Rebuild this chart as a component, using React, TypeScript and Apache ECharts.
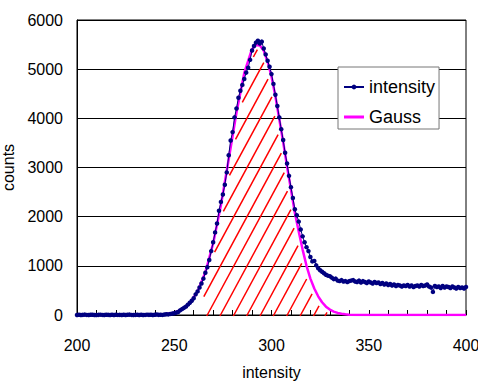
import React, { useEffect, useRef } from "react";
import * as echarts from "echarts";

// intensity measurements, one value per unit of x starting at X_START
const X_START = 200;
const intensityValues = [
  // 200-209
  0, 5, 0, 3, 8, 2, 0, 4, 6, 1,
  // 210-219
  0, 3, 7, 2, 0, 5, 3, 1, 4, 0,
  // 220-229
  6, 2, 3, 0, 5, 1, 4, 8, 2, 0,
  // 230-239
  3, 6, 1, 4, 0, 2, 7, 3, 5, 1,
  // 240-249
  4, 9, 3, 6, 2, 10, 15, 12, 22, 28,
  // 250-259
  35, 48, 60, 95, 120, 145, 170, 210, 250, 290,
  // 260-269
  340, 420, 480, 560, 640, 740, 860, 970, 1120, 1300,
  // 270-279
  1480, 1680, 1860, 2120, 2300, 2450, 2650, 2900, 3250, 3550,
  // 280-289
  3720, 4020, 4200, 4420, 4560, 4680, 4800, 4930, 5030, 5190,
  // 290-299
  5380, 5470, 5540, 5580, 5520, 5560, 5420, 5300, 5170, 5050,
  // 300-309
  4900, 4700, 4480, 4250, 4020, 3780, 3560, 3300, 3080, 2830,
  // 310-319
  2600, 2380, 2150, 2030, 1900, 1740, 1600, 1480, 1380, 1300,
  // 320-329
  1180, 1090, 1100, 1010, 950, 910, 880, 850, 820, 800,
  // 330-339
  790, 760, 730, 740, 700, 690, 710, 680, 690, 670,
  // 340-349
  690, 700, 710, 680, 670, 700, 660, 690, 670, 650,
  // 350-359
  680, 660, 640, 670, 650, 660, 630, 650, 620, 640,
  // 360-369
  610, 630, 600, 620, 590, 610, 600, 580, 600, 590,
  // 370-379
  610, 580, 600, 570, 590, 600, 580, 610, 590, 600,
  // 380-389
  620, 580, 560, 470, 590, 570, 580, 550, 590, 560,
  // 390-400
  580, 570, 550, 580, 560, 540, 570, 550, 560, 540, 570,
];

const gaussX = [
  200, 230, 240, 246, 250, 254, 258, 262, 266, 270, 274, 278, 282, 286, 290,
  292, 294, 296, 298, 300, 302, 304, 306, 308, 310, 312, 314, 316, 318, 320,
  322, 324, 326, 328, 330, 332, 334, 336, 338, 340, 344, 350, 400,
];
const gaussY = [
  0, 0, 3, 20, 48, 112, 242, 478, 870, 1456, 2239, 3167, 4118, 4923, 5410,
  5490, 5480, 5380, 5150, 4850, 4450, 3980, 3520, 3020, 2550, 2080, 1700, 1330, 1000, 740,
  540, 380, 260, 170, 110, 70, 42, 24, 13, 6, 1, 0, 0,
];

// hatch lines: x where each hatch line meets y = 0
const hatchIntercepts = [
  205.0, 211.8, 218.7, 225.6, 232.4, 239.3, 246.2, 253.0, 259.8, 266.7,
  273.5, 280.4, 287.2, 294.1, 300.9, 307.8, 314.7, 321.6, 327.5,
];
const HATCH_MIN_X = 265;

const yTicks = [0, 1000, 2000, 3000, 4000, 5000, 6000];
const xLabelStep = 50;

const SANS = "'Liberation Sans', Arial, sans-serif";

export default function App() {
  const ref = useRef<HTMLDivElement>(null);
  useEffect(() => {
    if (!ref.current) return;
    const chart = echarts.init(ref.current, undefined, { renderer: "svg" });

    const intensityData = intensityValues.map((v, i) => [X_START + i, v]);
    const gaussData = gaussX.map((x, i) => [x, gaussY[i]]);
    const hatchData = hatchIntercepts.map((c) => [c, 0]);

    const slope = 1.85;
    const V = 2.5;
    const H = 3;

    const renderHatch = (params: any, api: any) => {
      const c = api.value(0);
      const p0 = api.coord([c, 0]);
      const xmin = api.coord([HATCH_MIN_X, 0])[0];
      const gp = gaussX.map((x, i) => api.coord([x, gaussY[i]]));
      const curve = (px: number) => {
        if (px <= gp[0][0]) return gp[0][1];
        for (let i = 1; i < gp.length; i++) {
          if (px <= gp[i][0]) {
            const a = gp[i - 1];
            const b = gp[i];
            const t = (px - a[0]) / (b[0] - a[0]);
            return a[1] + (b[1] - a[1]) * t;
          }
        }
        return gp[gp.length - 1][1];
      };
      const top = params.coordSys.y;
      const segs: number[][] = [];
      let cur: number[] | null = null;
      for (let t = 0; t <= 500; t += 0.5) {
        const px = p0[0] + t;
        const py = p0[1] + 1 - t * slope;
        if (py < top) break;
        const lim = Math.max(curve(px - H), curve(px), curve(px + H)) + V;
        const inside = px >= xmin && py >= lim;
        if (inside) {
          if (!cur) cur = [px, py, px, py];
          else {
            cur[2] = px;
            cur[3] = py;
          }
        } else if (cur) {
          segs.push(cur);
          cur = null;
        }
      }
      if (cur) segs.push(cur);
      return {
        type: "group",
        children: segs.map((s) => ({
          type: "line",
          shape: { x1: s[0], y1: s[1], x2: s[2], y2: s[3] },
          style: { stroke: "#ff0000", lineWidth: 1.5 },
        })),
      };
    };

    chart.setOption({
      animation: false,
      backgroundColor: "#ffffff",
      grid: {
        left: 77,
        top: 20,
        width: 389,
        height: 295,
        outerBoundsMode: "none",
        containLabel: false,
        show: true,
        borderColor: "#000",
        borderWidth: 1,
        backgroundColor: "transparent",
      },
      legend: {
        left: 338,
        top: 67,
        orient: "vertical",
        padding: [10, 4, 2, 5],
        itemGap: 10,
        itemWidth: 20,
        itemHeight: 6,
        backgroundColor: "#ffffff",
        borderColor: "#777",
        borderWidth: 1,
        textStyle: { fontFamily: SANS, fontSize: 18, color: "#000", lineHeight: 20 },
        data: [
          { name: "intensity" },
          { name: "Gauss", icon: "path://M0 0H20V3H0Z", itemStyle: { color: "#ff00ff" } },
        ],
      },
      xAxis: {
        type: "value",
        min: 200,
        max: 400,
        interval: 10,
        name: "intensity",
        nameLocation: "middle",
        nameGap: 49,
        nameTextStyle: { fontFamily: SANS, fontSize: 16, color: "#000" },
        axisLine: { show: true, lineStyle: { color: "#000", width: 1 } },
        axisTick: { show: true, inside: true, length: 5, lineStyle: { color: "#000" } },
        axisLabel: {
          fontFamily: SANS,
          fontSize: 16,
          color: "#000",
          margin: 22,
          showMinLabel: true,
          showMaxLabel: true,
          formatter: (v: number) => (v % xLabelStep === 0 ? String(v) : ""),
        },
        splitLine: { show: false },
      },
      yAxis: {
        type: "value",
        min: yTicks[0],
        max: yTicks[yTicks.length - 1],
        interval: yTicks[1] - yTicks[0],
        name: "counts",
        nameLocation: "middle",
        nameGap: 52,
        nameTextStyle: { fontFamily: SANS, fontSize: 16, color: "#000" },
        axisLine: { show: true, lineStyle: { color: "#000", width: 1 } },
        axisTick: { show: false },
        axisLabel: {
          fontFamily: SANS,
          fontSize: 16,
          color: "#000",
          margin: 14,
          formatter: (v: number) => String(v),
        },
        splitLine: { show: true, lineStyle: { color: "#000", width: 1 } },
      },
      series: [
        {
          type: "custom",
          name: "hatch",
          renderItem: renderHatch,
          data: hatchData,
          encode: { x: 0, y: 1 },
          clip: false,
          z: 1,
          silent: true,
        },
        {
          type: "line",
          name: "Gauss",
          data: gaussData,
          showSymbol: false,
          symbol: "none",
          lineStyle: { color: "#ff00ff", width: 2.5 },
          itemStyle: { color: "#ff00ff" },
          z: 2,
        },
        {
          type: "line",
          name: "intensity",
          data: intensityData,
          symbol: "circle",
          symbolSize: 4.5,
          showSymbol: true,
          showAllSymbol: true,
          lineStyle: { color: "#000080", width: 1 },
          itemStyle: { color: "#000080" },
          z: 3,
        },
      ],
    });
    return () => chart.dispose();
  }, []);
  return (
    <div
      ref={ref}
      style={{ position: "absolute", left: 0, top: 0, width: 478, height: 382 }}
    />
  );
}
